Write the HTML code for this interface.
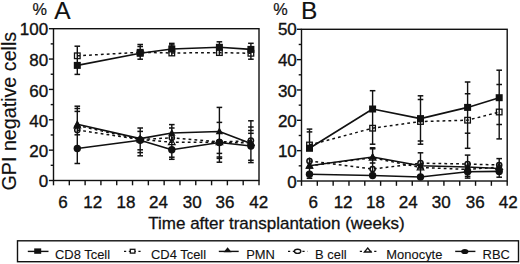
<!DOCTYPE html>
<html><head><meta charset="utf-8"><style>
html,body{margin:0;padding:0;background:#fff;}
svg{display:block;}
text{font-family:"Liberation Sans",sans-serif;fill:#111;stroke:#111;stroke-width:0.35px;}
.t17{font-size:17px;}
.xt{font-size:17px;stroke-width:0.3px;}
.yt{font-size:19.7px;stroke-width:0.15px;}
.t16{font-size:16.3px;stroke-width:0.2px;}
.t24{font-size:24.5px;stroke-width:0.15px;}
.t12{font-size:12.95px;stroke-width:0.1px;}
</style></head><body>
<svg width="520" height="264" viewBox="0 0 520 264">
<rect width="520" height="264" fill="#fff"/>
<rect x="53.5" y="28.7" width="205.50" height="151.80" fill="none" stroke="#111" stroke-width="1.4"/>
<line x1="53.50" y1="180.5" x2="53.50" y2="185.3" stroke="#111" stroke-width="1.4"/>
<line x1="69.31" y1="180.5" x2="69.31" y2="185.3" stroke="#111" stroke-width="1.4"/>
<line x1="85.12" y1="180.5" x2="85.12" y2="185.3" stroke="#111" stroke-width="1.4"/>
<line x1="100.92" y1="180.5" x2="100.92" y2="185.3" stroke="#111" stroke-width="1.4"/>
<line x1="116.73" y1="180.5" x2="116.73" y2="185.3" stroke="#111" stroke-width="1.4"/>
<line x1="132.54" y1="180.5" x2="132.54" y2="185.3" stroke="#111" stroke-width="1.4"/>
<line x1="148.35" y1="180.5" x2="148.35" y2="185.3" stroke="#111" stroke-width="1.4"/>
<line x1="164.15" y1="180.5" x2="164.15" y2="185.3" stroke="#111" stroke-width="1.4"/>
<line x1="179.96" y1="180.5" x2="179.96" y2="185.3" stroke="#111" stroke-width="1.4"/>
<line x1="195.77" y1="180.5" x2="195.77" y2="185.3" stroke="#111" stroke-width="1.4"/>
<line x1="211.58" y1="180.5" x2="211.58" y2="185.3" stroke="#111" stroke-width="1.4"/>
<line x1="227.38" y1="180.5" x2="227.38" y2="185.3" stroke="#111" stroke-width="1.4"/>
<line x1="243.19" y1="180.5" x2="243.19" y2="185.3" stroke="#111" stroke-width="1.4"/>
<line x1="259.00" y1="180.5" x2="259.00" y2="185.3" stroke="#111" stroke-width="1.4"/>
<line x1="48.90" y1="180.50" x2="53.5" y2="180.50" stroke="#111" stroke-width="1.4"/>
<line x1="50.70" y1="165.32" x2="53.5" y2="165.32" stroke="#111" stroke-width="1.4"/>
<line x1="48.90" y1="150.14" x2="53.5" y2="150.14" stroke="#111" stroke-width="1.4"/>
<line x1="50.70" y1="134.96" x2="53.5" y2="134.96" stroke="#111" stroke-width="1.4"/>
<line x1="48.90" y1="119.78" x2="53.5" y2="119.78" stroke="#111" stroke-width="1.4"/>
<line x1="50.70" y1="104.60" x2="53.5" y2="104.60" stroke="#111" stroke-width="1.4"/>
<line x1="48.90" y1="89.42" x2="53.5" y2="89.42" stroke="#111" stroke-width="1.4"/>
<line x1="50.70" y1="74.24" x2="53.5" y2="74.24" stroke="#111" stroke-width="1.4"/>
<line x1="48.90" y1="59.06" x2="53.5" y2="59.06" stroke="#111" stroke-width="1.4"/>
<line x1="50.70" y1="43.88" x2="53.5" y2="43.88" stroke="#111" stroke-width="1.4"/>
<line x1="48.90" y1="28.70" x2="53.5" y2="28.70" stroke="#111" stroke-width="1.4"/>
<text x="48.2" y="34.85" text-anchor="end" class="t17">100</text>
<text x="48.2" y="66.10" text-anchor="end" class="t17">80</text>
<text x="48.2" y="96.60" text-anchor="end" class="t17">60</text>
<text x="48.2" y="126.70" text-anchor="end" class="t17">40</text>
<text x="48.2" y="156.80" text-anchor="end" class="t17">20</text>
<text x="48.2" y="186.80" text-anchor="end" class="t17">0</text>
<text x="63" y="208" text-anchor="middle" class="t17">6</text>
<text x="92.7" y="208" text-anchor="middle" class="t17">12</text>
<text x="126" y="208" text-anchor="middle" class="t17">18</text>
<text x="158.5" y="208" text-anchor="middle" class="t17">24</text>
<text x="192.2" y="208" text-anchor="middle" class="t17">30</text>
<text x="225" y="208" text-anchor="middle" class="t17">36</text>
<text x="258.7" y="208" text-anchor="middle" class="t17">42</text>
<rect x="301.5" y="29.3" width="205.70" height="151.70" fill="none" stroke="#111" stroke-width="1.4"/>
<line x1="301.50" y1="181.0" x2="301.50" y2="185.8" stroke="#111" stroke-width="1.4"/>
<line x1="317.32" y1="181.0" x2="317.32" y2="185.8" stroke="#111" stroke-width="1.4"/>
<line x1="333.15" y1="181.0" x2="333.15" y2="185.8" stroke="#111" stroke-width="1.4"/>
<line x1="348.97" y1="181.0" x2="348.97" y2="185.8" stroke="#111" stroke-width="1.4"/>
<line x1="364.79" y1="181.0" x2="364.79" y2="185.8" stroke="#111" stroke-width="1.4"/>
<line x1="380.62" y1="181.0" x2="380.62" y2="185.8" stroke="#111" stroke-width="1.4"/>
<line x1="396.44" y1="181.0" x2="396.44" y2="185.8" stroke="#111" stroke-width="1.4"/>
<line x1="412.26" y1="181.0" x2="412.26" y2="185.8" stroke="#111" stroke-width="1.4"/>
<line x1="428.08" y1="181.0" x2="428.08" y2="185.8" stroke="#111" stroke-width="1.4"/>
<line x1="443.91" y1="181.0" x2="443.91" y2="185.8" stroke="#111" stroke-width="1.4"/>
<line x1="459.73" y1="181.0" x2="459.73" y2="185.8" stroke="#111" stroke-width="1.4"/>
<line x1="475.55" y1="181.0" x2="475.55" y2="185.8" stroke="#111" stroke-width="1.4"/>
<line x1="491.38" y1="181.0" x2="491.38" y2="185.8" stroke="#111" stroke-width="1.4"/>
<line x1="507.20" y1="181.0" x2="507.20" y2="185.8" stroke="#111" stroke-width="1.4"/>
<line x1="296.90" y1="181.00" x2="301.5" y2="181.00" stroke="#111" stroke-width="1.4"/>
<line x1="298.70" y1="165.83" x2="301.5" y2="165.83" stroke="#111" stroke-width="1.4"/>
<line x1="296.90" y1="150.66" x2="301.5" y2="150.66" stroke="#111" stroke-width="1.4"/>
<line x1="298.70" y1="135.49" x2="301.5" y2="135.49" stroke="#111" stroke-width="1.4"/>
<line x1="296.90" y1="120.32" x2="301.5" y2="120.32" stroke="#111" stroke-width="1.4"/>
<line x1="298.70" y1="105.15" x2="301.5" y2="105.15" stroke="#111" stroke-width="1.4"/>
<line x1="296.90" y1="89.98" x2="301.5" y2="89.98" stroke="#111" stroke-width="1.4"/>
<line x1="298.70" y1="74.81" x2="301.5" y2="74.81" stroke="#111" stroke-width="1.4"/>
<line x1="296.90" y1="59.64" x2="301.5" y2="59.64" stroke="#111" stroke-width="1.4"/>
<line x1="298.70" y1="44.47" x2="301.5" y2="44.47" stroke="#111" stroke-width="1.4"/>
<line x1="296.90" y1="29.30" x2="301.5" y2="29.30" stroke="#111" stroke-width="1.4"/>
<text x="296.8" y="35.35" text-anchor="end" class="t17">50</text>
<text x="296.8" y="66.10" text-anchor="end" class="t17">40</text>
<text x="296.8" y="96.50" text-anchor="end" class="t17">30</text>
<text x="296.8" y="126.90" text-anchor="end" class="t17">20</text>
<text x="296.8" y="157.30" text-anchor="end" class="t17">10</text>
<text x="296.8" y="187.60" text-anchor="end" class="t17">0</text>
<text x="313.3" y="208" text-anchor="middle" class="t17">6</text>
<text x="343.1" y="208" text-anchor="middle" class="t17">12</text>
<text x="375.4" y="208" text-anchor="middle" class="t17">18</text>
<text x="408.2" y="208" text-anchor="middle" class="t17">24</text>
<text x="441.2" y="208" text-anchor="middle" class="t17">30</text>
<text x="475.2" y="208" text-anchor="middle" class="t17">36</text>
<text x="508.2" y="208" text-anchor="middle" class="t17">42</text>
<line x1="77.30" y1="46.2" x2="77.30" y2="74.4" stroke="#111" stroke-width="1.4"/>
<line x1="74.50" y1="46.2" x2="80.10" y2="46.2" stroke="#111" stroke-width="1.5"/>
<line x1="74.50" y1="74.4" x2="80.10" y2="74.4" stroke="#111" stroke-width="1.5"/>
<line x1="140.20" y1="44.5" x2="140.20" y2="59.2" stroke="#111" stroke-width="1.4"/>
<line x1="137.40" y1="44.5" x2="143.00" y2="44.5" stroke="#111" stroke-width="1.5"/>
<line x1="137.40" y1="46.5" x2="143.00" y2="46.5" stroke="#111" stroke-width="1.5"/>
<line x1="137.40" y1="59.2" x2="143.00" y2="59.2" stroke="#111" stroke-width="1.5"/>
<line x1="171.80" y1="43.4" x2="171.80" y2="56.0" stroke="#111" stroke-width="1.4"/>
<line x1="169.00" y1="43.4" x2="174.60" y2="43.4" stroke="#111" stroke-width="1.5"/>
<line x1="169.00" y1="44.9" x2="174.60" y2="44.9" stroke="#111" stroke-width="1.5"/>
<line x1="219.40" y1="41.8" x2="219.40" y2="55.5" stroke="#111" stroke-width="1.4"/>
<line x1="216.60" y1="41.8" x2="222.20" y2="41.8" stroke="#111" stroke-width="1.5"/>
<line x1="250.90" y1="43.3" x2="250.90" y2="59.2" stroke="#111" stroke-width="1.4"/>
<line x1="248.10" y1="43.3" x2="253.70" y2="43.3" stroke="#111" stroke-width="1.5"/>
<line x1="248.10" y1="59.2" x2="253.70" y2="59.2" stroke="#111" stroke-width="1.5"/>
<line x1="77.30" y1="106.2" x2="77.30" y2="163.5" stroke="#111" stroke-width="1.4"/>
<line x1="74.50" y1="106.2" x2="80.10" y2="106.2" stroke="#111" stroke-width="1.5"/>
<line x1="74.50" y1="108.5" x2="80.10" y2="108.5" stroke="#111" stroke-width="1.5"/>
<line x1="74.50" y1="111.4" x2="80.10" y2="111.4" stroke="#111" stroke-width="1.5"/>
<line x1="74.50" y1="134.8" x2="80.10" y2="134.8" stroke="#111" stroke-width="1.5"/>
<line x1="74.50" y1="163.5" x2="80.10" y2="163.5" stroke="#111" stroke-width="1.5"/>
<line x1="140.20" y1="128.0" x2="140.20" y2="155.8" stroke="#111" stroke-width="1.4"/>
<line x1="137.40" y1="128.0" x2="143.00" y2="128.0" stroke="#111" stroke-width="1.5"/>
<line x1="137.40" y1="131.4" x2="143.00" y2="131.4" stroke="#111" stroke-width="1.5"/>
<line x1="137.40" y1="149.8" x2="143.00" y2="149.8" stroke="#111" stroke-width="1.5"/>
<line x1="137.40" y1="152.6" x2="143.00" y2="152.6" stroke="#111" stroke-width="1.5"/>
<line x1="137.40" y1="155.8" x2="143.00" y2="155.8" stroke="#111" stroke-width="1.5"/>
<line x1="171.80" y1="124.6" x2="171.80" y2="159.0" stroke="#111" stroke-width="1.4"/>
<line x1="169.00" y1="124.6" x2="174.60" y2="124.6" stroke="#111" stroke-width="1.5"/>
<line x1="169.00" y1="128.0" x2="174.60" y2="128.0" stroke="#111" stroke-width="1.5"/>
<line x1="169.00" y1="157.2" x2="174.60" y2="157.2" stroke="#111" stroke-width="1.5"/>
<line x1="169.00" y1="159.3" x2="174.60" y2="159.3" stroke="#111" stroke-width="1.5"/>
<line x1="219.40" y1="107.4" x2="219.40" y2="162.2" stroke="#111" stroke-width="1.4"/>
<line x1="216.60" y1="107.4" x2="222.20" y2="107.4" stroke="#111" stroke-width="1.5"/>
<line x1="216.60" y1="122.4" x2="222.20" y2="122.4" stroke="#111" stroke-width="1.5"/>
<line x1="216.60" y1="153.4" x2="222.20" y2="153.4" stroke="#111" stroke-width="1.5"/>
<line x1="216.60" y1="157.0" x2="222.20" y2="157.0" stroke="#111" stroke-width="1.5"/>
<line x1="216.60" y1="158.4" x2="222.20" y2="158.4" stroke="#111" stroke-width="1.5"/>
<line x1="216.60" y1="162.2" x2="222.20" y2="162.2" stroke="#111" stroke-width="1.5"/>
<line x1="250.90" y1="120.8" x2="250.90" y2="162.6" stroke="#111" stroke-width="1.4"/>
<line x1="248.10" y1="120.8" x2="253.70" y2="120.8" stroke="#111" stroke-width="1.5"/>
<line x1="248.10" y1="127.0" x2="253.70" y2="127.0" stroke="#111" stroke-width="1.5"/>
<line x1="248.10" y1="130.5" x2="253.70" y2="130.5" stroke="#111" stroke-width="1.5"/>
<line x1="248.10" y1="133.3" x2="253.70" y2="133.3" stroke="#111" stroke-width="1.5"/>
<line x1="248.10" y1="160.3" x2="253.70" y2="160.3" stroke="#111" stroke-width="1.5"/>
<line x1="248.10" y1="162.6" x2="253.70" y2="162.6" stroke="#111" stroke-width="1.5"/>
<polyline points="77.30,125.50 140.20,139.50 171.80,142.30 219.40,142.30 250.90,143.00" fill="none" stroke="#111" stroke-width="1.5" stroke-dasharray="2.8 3.1"/>
<polyline points="77.30,130.00 140.20,139.50 171.80,137.80 219.40,142.00 250.90,140.60" fill="none" stroke="#111" stroke-width="1.5" stroke-dasharray="2.8 3.1"/>
<polyline points="77.30,55.80 140.20,52.30 171.80,53.00 219.40,52.60 250.90,53.30" fill="none" stroke="#111" stroke-width="1.5" stroke-dasharray="2.8 3.1"/>
<polyline points="77.30,124.20 140.20,138.60 171.80,133.00 219.40,131.50 250.90,143.50" fill="none" stroke="#111" stroke-width="1.6" stroke-linejoin="round"/>
<polyline points="77.30,148.50 140.20,140.30 171.80,149.80 219.40,142.50 250.90,146.00" fill="none" stroke="#111" stroke-width="1.6" stroke-linejoin="round"/>
<polyline points="77.30,65.40 140.20,53.30 171.80,49.00 219.40,47.30 250.90,49.40" fill="none" stroke="#111" stroke-width="1.6" stroke-linejoin="round"/>
<polygon points="77.30,121.94 80.60,127.88 74.00,127.88" fill="none" stroke="#111" stroke-width="1.2"/>
<polygon points="140.20,135.94 143.50,141.88 136.90,141.88" fill="none" stroke="#111" stroke-width="1.2"/>
<polygon points="171.80,138.74 175.10,144.68 168.50,144.68" fill="none" stroke="#111" stroke-width="1.2"/>
<polygon points="219.40,138.74 222.70,144.68 216.10,144.68" fill="none" stroke="#111" stroke-width="1.2"/>
<polygon points="250.90,139.44 254.20,145.38 247.60,145.38" fill="none" stroke="#111" stroke-width="1.2"/>
<circle cx="77.30" cy="130.00" r="2.6" fill="none" stroke="#111" stroke-width="1.5"/>
<circle cx="140.20" cy="139.50" r="2.6" fill="none" stroke="#111" stroke-width="1.5"/>
<circle cx="171.80" cy="137.80" r="2.6" fill="none" stroke="#111" stroke-width="1.5"/>
<circle cx="219.40" cy="142.00" r="2.6" fill="none" stroke="#111" stroke-width="1.5"/>
<circle cx="250.90" cy="140.60" r="2.6" fill="none" stroke="#111" stroke-width="1.5"/>
<rect x="74.50" y="53.00" width="5.6" height="5.6" fill="none" stroke="#111" stroke-width="1.3"/>
<rect x="137.40" y="49.50" width="5.6" height="5.6" fill="none" stroke="#111" stroke-width="1.3"/>
<rect x="169.00" y="50.20" width="5.6" height="5.6" fill="none" stroke="#111" stroke-width="1.3"/>
<rect x="216.60" y="49.80" width="5.6" height="5.6" fill="none" stroke="#111" stroke-width="1.3"/>
<rect x="248.10" y="50.50" width="5.6" height="5.6" fill="none" stroke="#111" stroke-width="1.3"/>
<polygon points="77.30,119.89 81.00,127.07 73.60,127.07" fill="#111"/>
<polygon points="140.20,134.29 143.90,141.47 136.50,141.47" fill="#111"/>
<polygon points="171.80,128.69 175.50,135.87 168.10,135.87" fill="#111"/>
<polygon points="219.40,127.19 223.10,134.37 215.70,134.37" fill="#111"/>
<polygon points="250.90,139.19 254.60,146.37 247.20,146.37" fill="#111"/>
<circle cx="77.30" cy="148.50" r="3.7" fill="#111"/>
<circle cx="140.20" cy="140.30" r="3.7" fill="#111"/>
<circle cx="171.80" cy="149.80" r="3.7" fill="#111"/>
<circle cx="219.40" cy="142.50" r="3.7" fill="#111"/>
<circle cx="250.90" cy="146.00" r="3.7" fill="#111"/>
<rect x="73.80" y="61.90" width="7.0" height="7.0" fill="#111"/>
<rect x="136.70" y="49.80" width="7.0" height="7.0" fill="#111"/>
<rect x="168.30" y="45.50" width="7.0" height="7.0" fill="#111"/>
<rect x="215.90" y="43.80" width="7.0" height="7.0" fill="#111"/>
<rect x="247.40" y="45.90" width="7.0" height="7.0" fill="#111"/>
<line x1="309.50" y1="129.1" x2="309.50" y2="151.0" stroke="#111" stroke-width="1.4"/>
<line x1="306.70" y1="129.1" x2="312.30" y2="129.1" stroke="#111" stroke-width="1.5"/>
<line x1="306.70" y1="131.9" x2="312.30" y2="131.9" stroke="#111" stroke-width="1.5"/>
<line x1="372.60" y1="90.7" x2="372.60" y2="144.2" stroke="#111" stroke-width="1.4"/>
<line x1="369.80" y1="90.7" x2="375.40" y2="90.7" stroke="#111" stroke-width="1.5"/>
<line x1="369.80" y1="144.2" x2="375.40" y2="144.2" stroke="#111" stroke-width="1.5"/>
<line x1="420.50" y1="95.8" x2="420.50" y2="144.2" stroke="#111" stroke-width="1.4"/>
<line x1="417.70" y1="95.8" x2="423.30" y2="95.8" stroke="#111" stroke-width="1.5"/>
<line x1="417.70" y1="99.5" x2="423.30" y2="99.5" stroke="#111" stroke-width="1.5"/>
<line x1="417.70" y1="141.0" x2="423.30" y2="141.0" stroke="#111" stroke-width="1.5"/>
<line x1="417.70" y1="144.2" x2="423.30" y2="144.2" stroke="#111" stroke-width="1.5"/>
<line x1="467.60" y1="82.0" x2="467.60" y2="148.3" stroke="#111" stroke-width="1.4"/>
<line x1="464.80" y1="82.0" x2="470.40" y2="82.0" stroke="#111" stroke-width="1.5"/>
<line x1="464.80" y1="93.75" x2="470.40" y2="93.75" stroke="#111" stroke-width="1.5"/>
<line x1="464.80" y1="133.2" x2="470.40" y2="133.2" stroke="#111" stroke-width="1.5"/>
<line x1="464.80" y1="148.3" x2="470.40" y2="148.3" stroke="#111" stroke-width="1.5"/>
<line x1="499.20" y1="70.2" x2="499.20" y2="138.9" stroke="#111" stroke-width="1.4"/>
<line x1="496.40" y1="70.2" x2="502.00" y2="70.2" stroke="#111" stroke-width="1.5"/>
<line x1="496.40" y1="84.5" x2="502.00" y2="84.5" stroke="#111" stroke-width="1.5"/>
<line x1="496.40" y1="124.5" x2="502.00" y2="124.5" stroke="#111" stroke-width="1.5"/>
<line x1="496.40" y1="138.9" x2="502.00" y2="138.9" stroke="#111" stroke-width="1.5"/>
<line x1="309.50" y1="157.5" x2="309.50" y2="178.5" stroke="#111" stroke-width="1.4"/>
<line x1="306.70" y1="178.3" x2="312.30" y2="178.3" stroke="#111" stroke-width="1.5"/>
<line x1="372.60" y1="147.8" x2="372.60" y2="178.0" stroke="#111" stroke-width="1.4"/>
<line x1="369.80" y1="147.8" x2="375.40" y2="147.8" stroke="#111" stroke-width="1.5"/>
<line x1="369.80" y1="148.8" x2="375.40" y2="148.8" stroke="#111" stroke-width="1.5"/>
<line x1="369.80" y1="163.0" x2="375.40" y2="163.0" stroke="#111" stroke-width="1.5"/>
<line x1="420.50" y1="152.8" x2="420.50" y2="179.0" stroke="#111" stroke-width="1.4"/>
<line x1="417.70" y1="152.8" x2="423.30" y2="152.8" stroke="#111" stroke-width="1.5"/>
<line x1="467.60" y1="155.1" x2="467.60" y2="178.1" stroke="#111" stroke-width="1.4"/>
<line x1="464.80" y1="155.1" x2="470.40" y2="155.1" stroke="#111" stroke-width="1.5"/>
<line x1="464.80" y1="176.4" x2="470.40" y2="176.4" stroke="#111" stroke-width="1.5"/>
<line x1="464.80" y1="178.1" x2="470.40" y2="178.1" stroke="#111" stroke-width="1.5"/>
<line x1="499.20" y1="158.6" x2="499.20" y2="177.2" stroke="#111" stroke-width="1.4"/>
<line x1="496.40" y1="158.6" x2="502.00" y2="158.6" stroke="#111" stroke-width="1.5"/>
<line x1="496.40" y1="177.2" x2="502.00" y2="177.2" stroke="#111" stroke-width="1.5"/>
<polyline points="309.50,165.80 372.60,157.80 420.50,167.50 467.60,169.50 499.20,167.00" fill="none" stroke="#111" stroke-width="1.5" stroke-dasharray="2.8 3.1"/>
<polyline points="309.50,161.00 372.60,169.00 420.50,163.20 467.60,164.00 499.20,165.00" fill="none" stroke="#111" stroke-width="1.5" stroke-dasharray="2.8 3.1"/>
<polyline points="309.50,145.00 372.60,128.20 420.50,121.50 467.60,120.20 499.20,112.00" fill="none" stroke="#111" stroke-width="1.5" stroke-dasharray="2.8 3.1"/>
<polyline points="309.50,165.80 372.60,157.00 420.50,165.80 467.60,167.00 499.20,168.50" fill="none" stroke="#111" stroke-width="1.6" stroke-linejoin="round"/>
<polyline points="309.50,174.30 372.60,175.50 420.50,177.00 467.60,171.80 499.20,171.40" fill="none" stroke="#111" stroke-width="1.6" stroke-linejoin="round"/>
<polyline points="309.50,148.30 372.60,109.00 420.50,118.60 467.60,107.40 499.20,97.70" fill="none" stroke="#111" stroke-width="1.6" stroke-linejoin="round"/>
<polygon points="309.50,162.24 312.80,168.18 306.20,168.18" fill="none" stroke="#111" stroke-width="1.2"/>
<polygon points="372.60,154.24 375.90,160.18 369.30,160.18" fill="none" stroke="#111" stroke-width="1.2"/>
<polygon points="420.50,163.94 423.80,169.88 417.20,169.88" fill="none" stroke="#111" stroke-width="1.2"/>
<polygon points="467.60,165.94 470.90,171.88 464.30,171.88" fill="none" stroke="#111" stroke-width="1.2"/>
<polygon points="499.20,163.44 502.50,169.38 495.90,169.38" fill="none" stroke="#111" stroke-width="1.2"/>
<circle cx="309.50" cy="161.00" r="2.6" fill="none" stroke="#111" stroke-width="1.5"/>
<circle cx="372.60" cy="169.00" r="2.6" fill="none" stroke="#111" stroke-width="1.5"/>
<circle cx="420.50" cy="163.20" r="2.6" fill="none" stroke="#111" stroke-width="1.5"/>
<circle cx="467.60" cy="164.00" r="2.6" fill="none" stroke="#111" stroke-width="1.5"/>
<circle cx="499.20" cy="165.00" r="2.6" fill="none" stroke="#111" stroke-width="1.5"/>
<rect x="306.70" y="142.20" width="5.6" height="5.6" fill="none" stroke="#111" stroke-width="1.3"/>
<rect x="369.80" y="125.40" width="5.6" height="5.6" fill="none" stroke="#111" stroke-width="1.3"/>
<rect x="417.70" y="118.70" width="5.6" height="5.6" fill="none" stroke="#111" stroke-width="1.3"/>
<rect x="464.80" y="117.40" width="5.6" height="5.6" fill="none" stroke="#111" stroke-width="1.3"/>
<rect x="496.40" y="109.20" width="5.6" height="5.6" fill="none" stroke="#111" stroke-width="1.3"/>
<polygon points="309.50,161.49 313.20,168.67 305.80,168.67" fill="#111"/>
<polygon points="372.60,152.69 376.30,159.87 368.90,159.87" fill="#111"/>
<polygon points="420.50,161.49 424.20,168.67 416.80,168.67" fill="#111"/>
<polygon points="467.60,162.69 471.30,169.87 463.90,169.87" fill="#111"/>
<polygon points="499.20,164.19 502.90,171.37 495.50,171.37" fill="#111"/>
<circle cx="309.50" cy="174.30" r="3.7" fill="#111"/>
<circle cx="372.60" cy="175.50" r="3.7" fill="#111"/>
<circle cx="420.50" cy="177.00" r="3.7" fill="#111"/>
<circle cx="467.60" cy="171.80" r="3.7" fill="#111"/>
<circle cx="499.20" cy="171.40" r="3.7" fill="#111"/>
<rect x="306.00" y="144.80" width="7.0" height="7.0" fill="#111"/>
<rect x="369.10" y="105.50" width="7.0" height="7.0" fill="#111"/>
<rect x="417.00" y="115.10" width="7.0" height="7.0" fill="#111"/>
<rect x="464.10" y="103.90" width="7.0" height="7.0" fill="#111"/>
<rect x="495.70" y="94.20" width="7.0" height="7.0" fill="#111"/>
<text x="32.5" y="14.8" class="t16">%</text>
<text x="54.2" y="19" class="t24">A</text>
<text x="273.3" y="14.8" class="t16">%</text>
<text x="301.0" y="19" class="t24">B</text>
<text transform="translate(16.2,190.5) rotate(-90)" class="yt">GPI negative cells</text>
<text x="148.3" y="229" class="xt">Time after transplantation (weeks)</text>
<rect x="17.5" y="240.8" width="501" height="20.9" fill="none" stroke="#111" stroke-width="1.4"/>
<line x1="27.8" y1="251.4" x2="48.5" y2="251.4" stroke="#111" stroke-width="1.4"/>
<rect x="34.2" y="248.4" width="7" height="5.4" fill="#111"/>
<text x="55" y="258.6" class="t12">CD8 Tcell</text>
<line x1="124" y1="251.4" x2="143" y2="251.4" stroke="#111" stroke-width="1.4" stroke-dasharray="2.2 2.6"/>
<rect x="130.3" y="249.3" width="4.6" height="3.8" fill="#fff" stroke="#111" stroke-width="1.3"/>
<text x="151" y="258.6" class="t12">CD4 Tcell</text>
<line x1="218.8" y1="251.4" x2="238.7" y2="251.4" stroke="#111" stroke-width="1.4"/>
<polygon points="227.6,247.2 231.6,252.2 223.6,252.2" fill="#111"/>
<text x="246.2" y="258.6" class="t12">PMN</text>
<line x1="288" y1="251.4" x2="307.5" y2="251.4" stroke="#111" stroke-width="1.4" stroke-dasharray="2.2 2.6"/>
<ellipse cx="297.6" cy="251.3" rx="3.2" ry="2.1" fill="#fff" stroke="#111" stroke-width="1.4"/>
<text x="315" y="258.6" class="t12">B cell</text>
<line x1="359.8" y1="251.4" x2="379" y2="251.4" stroke="#111" stroke-width="1.4" stroke-dasharray="2.2 2.6"/>
<polygon points="367.7,248 371,252 364.4,252" fill="#fff" stroke="#111" stroke-width="1.3"/>
<text x="386.3" y="258.6" class="t12">Monocyte</text>
<line x1="455.2" y1="251.4" x2="475.4" y2="251.4" stroke="#111" stroke-width="1.4"/>
<ellipse cx="464.8" cy="251.5" rx="3.6" ry="2.6" fill="#111"/>
<text x="482.6" y="258.6" class="t12">RBC</text>
</svg>
</body></html>
